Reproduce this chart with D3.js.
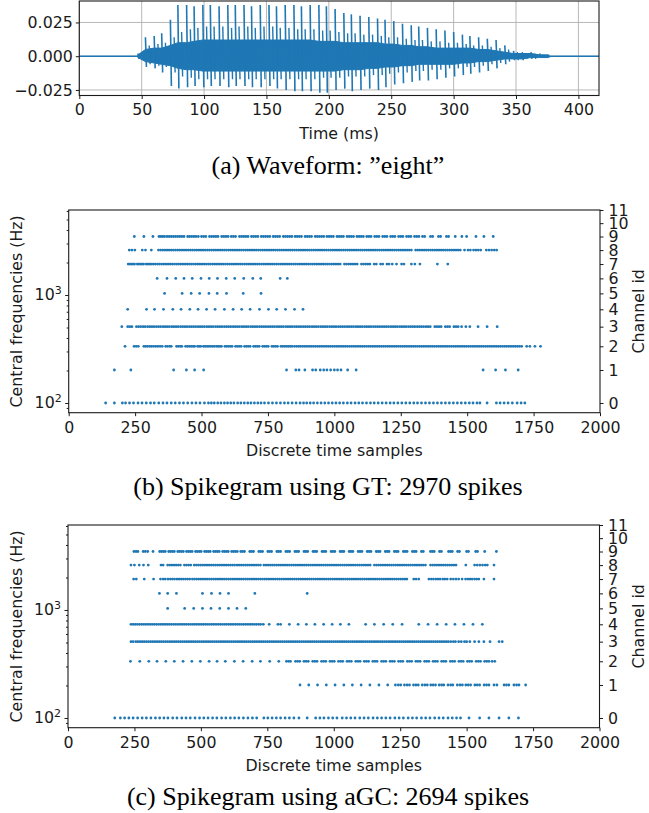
<!DOCTYPE html>
<html><head><meta charset="utf-8">
<script src="https://cdn.jsdelivr.net/npm/d3@7"></script>
<style>body{margin:0;background:#fff}svg{display:block}</style>
</head><body>
<script>
// ---------- Panel (a): waveform "eight" (values in units of 0.001) ----------
const waveXTicks = [0,50,100,150,200,250,300,350,400];
const waveYTicks = [-0.025,0,0.025];
const pulseT  = [47,53,60,66,73,79,86,92,99,105,112,119,125,132,138,145,152,158,165,172,178,185,192,198,205,212,218,225,232,239,245,252,259,266,272,279,286,293,300,307,313,320,327,334,341,348,355,362,369,376];
const pulseHi = [2,14,15,17,27,38,38,37,38,38,37,38,38,38,37,38,38,37,38,38,37,38,38,37,35,32,31,30,29,28,27,26,24,23,22,21,20,19,18,16,15,14,13,12,8,4,3,3,2,1];
const pulseLo = [-2,-8,-9,-12,-22,-24,-23,-22,-23,-22,-22,-23,-22,-22,-23,-23,-22,-24,-25,-26,-26,-26,-27,-27,-25,-24,-26,-25,-24,-25,-23,-21,-20,-19,-18,-18,-17,-16,-15,-14,-13,-12,-11,-9,-6,-3,-3,-2,-1,-1];
const secHi   = [0,8,9,10,14,18,20,21,22,22,22,21,22,22,21,22,22,21,21,20,20,20,19,19,18,17,17,16,16,15,14,14,13,12,12,11,11,10,10,9,8,8,7,6,5,3,2,2,1,1];
const secLo   = [0,-6,-7,-8,-12,-15,-16,-17,-17,-17,-17,-17,-17,-17,-17,-17,-17,-17,-17,-17,-17,-17,-16,-16,-16,-15,-15,-15,-14,-14,-13,-12,-12,-11,-11,-10,-10,-9,-9,-8,-8,-7,-6,-5,-4,-3,-2,-2,-1,-1];
const bodyHi  = [1,5,6,6,8,10,10,11,12,12,12,12,12,12,12,12,12,12,12,12,12,12,11,11,11,10,10,10,10,10,9,9,8,8,7,7,6,6,6,6,6,5,5,4,3,2,2,2,1,1];
const bodyLo  = [-1,-4,-5,-6,-7,-9,-10,-10,-11,-11,-11,-11,-11,-11,-11,-11,-11,-11,-11,-11,-11,-11,-11,-11,-11,-10,-10,-10,-9,-9,-8,-8,-7,-7,-6,-6,-6,-6,-6,-5,-5,-4,-4,-3,-2,-2,-2,-1,-1,-1];

// ---------- Spikegram axes ----------
const chanFreqs = [100,202,335,509,737,1035,1425,1935,2604,3480,4625,6124];
const chanIds = [0,1,2,3,4,5,6,7,8,9,10,11];
const sampleTicks = [0,250,500,750,1000,1250,1500,1750,2000];
const freqMajor = [100,1000];
const freqMinor = [90,200,300,400,500,600,700,800,900,2000,3000,4000,5000,6000];

// ---------- Panel (b): GT spikes (time sample per spike, per channel) ----------
const gt0 = [139,172,202,214,229,244,261,276,292,308,322,339,355,370,386,401,417,432,448,464,479,494,511,526,537,548,561,573,586,598,610,622,636,648,661,674,686,699,712,724,737,752,767,782,797,812,826,841,856,871,884,896,909,922,936,950,964,978,992,1006,1020,1034,1049,1063,1078,1092,1106,1121,1136,1150,1165,1180,1195,1210,1224,1239,1254,1269,1284,1299,1313,1328,1343,1358,1373,1388,1403,1418,1433,1448,1463,1478,1493,1508,1522,1537,1548,1575,1610,1624,1639,1654,1670,1688,1703,1717];
const gt1 = [172,234,395,443,474,508,820,855,867,889,918,930,947,960,972,986,1000,1012,1025,1050,1082,1560,1607,1644,1692];
const gt2 = [212,246,254,262,283,290,297,305,312,320,328,336,344,352,365,372,380,386,406,413,420,426,440,447,454,461,468,474,485,491,497,507,514,521,528,535,542,549,557,563,569,575,588,595,602,609,615,628,635,642,649,662,669,676,683,696,703,710,717,730,737,744,751,765,772,779,786,799,806,813,820,827,834,841,850,858,866,873,881,889,897,905,913,921,929,937,945,953,961,969,977,985,993,1001,1009,1017,1025,1033,1041,1049,1057,1065,1073,1081,1089,1097,1105,1113,1121,1129,1137,1145,1153,1161,1169,1177,1185,1193,1201,1209,1217,1225,1233,1241,1249,1257,1265,1273,1281,1289,1297,1305,1313,1321,1329,1337,1345,1353,1361,1369,1377,1385,1393,1401,1409,1417,1425,1433,1441,1449,1457,1465,1473,1481,1489,1497,1505,1513,1521,1529,1537,1545,1553,1561,1569,1577,1585,1593,1601,1609,1617,1625,1633,1641,1649,1657,1665,1673,1681,1689,1697,1705,1724,1736,1755,1776];
const gt3 = [200,222,230,238,255,263,271,280,288,297,305,313,321,330,338,346,355,363,371,379,388,396,404,412,421,429,437,445,454,462,470,478,487,495,503,511,520,528,536,544,553,561,569,577,586,594,602,610,619,627,635,643,652,660,668,676,685,693,701,709,718,726,734,742,751,759,767,775,784,792,800,808,817,825,833,841,850,858,866,874,883,891,899,907,916,924,932,940,949,957,965,973,982,990,998,1006,1015,1023,1031,1039,1048,1056,1064,1072,1081,1089,1097,1105,1114,1122,1130,1138,1147,1155,1163,1171,1180,1188,1196,1204,1213,1221,1229,1237,1246,1254,1262,1270,1279,1287,1295,1303,1312,1320,1328,1336,1345,1353,1361,1378,1386,1394,1402,1418,1426,1434,1450,1458,1466,1479,1495,1510,1541,1575,1613];
const gt4 = [222,293,323,357,392,423,456,487,519,551,586,619,651,683,718,752,783,816,850,882];
const gt5 = [361,427,461,493,528,559,594,657,724];
const gt6 = [333,370,403,434,465,498,529,560,593,625,659,693,723,796,823];
const gt7 = [224,230,236,242,248,258,264,270,276,282,292,298,304,310,318,326,334,342,350,358,366,374,382,390,398,406,414,422,430,438,446,454,462,470,478,486,494,502,510,518,526,534,542,550,558,566,574,582,590,598,606,614,622,630,638,646,654,662,670,678,686,694,702,710,718,726,734,742,750,758,766,774,782,790,798,806,814,822,830,838,846,854,862,870,878,886,894,902,910,918,926,934,942,950,958,966,974,982,990,998,1006,1014,1022,1038,1046,1054,1062,1070,1078,1086,1102,1110,1118,1126,1134,1150,1158,1174,1182,1198,1206,1218,1234,1253,1262,1290,1303,1322,1388,1427];
const gt8 = [228,238,249,277,289,311,338,346,354,362,370,378,386,394,402,410,418,426,434,442,450,458,466,474,482,490,498,506,514,522,530,538,546,554,562,570,578,586,594,602,610,618,626,634,642,650,658,666,674,682,690,698,706,714,722,730,738,746,754,762,770,778,786,794,802,810,818,826,834,842,850,858,866,874,882,890,898,906,914,922,930,938,946,954,962,970,978,986,994,1002,1010,1018,1026,1034,1042,1050,1058,1066,1074,1082,1090,1098,1106,1114,1122,1130,1138,1146,1154,1162,1170,1178,1186,1194,1202,1210,1218,1226,1234,1242,1250,1258,1266,1274,1282,1290,1306,1314,1322,1330,1338,1346,1354,1362,1370,1378,1386,1394,1402,1410,1418,1426,1434,1442,1450,1458,1466,1474,1490,1503,1512,1524,1533,1542,1551,1572,1582,1592,1602,1611];
const gt9 = [247,283,317,340,347,354,361,370,378,386,394,402,410,418,426,434,448,455,463,471,479,488,500,508,516,530,538,546,554,562,576,584,592,600,612,620,628,643,651,659,667,675,688,696,704,712,725,733,741,749,757,770,778,786,794,808,816,824,832,840,852,860,868,876,890,898,906,914,928,936,944,952,960,972,980,988,996,1010,1018,1026,1034,1048,1056,1064,1072,1085,1093,1101,1109,1122,1130,1138,1152,1160,1168,1182,1190,1198,1212,1220,1228,1242,1250,1258,1272,1280,1288,1302,1310,1318,1332,1340,1362,1370,1392,1400,1422,1430,1455,1480,1498,1533,1563,1598];

// ---------- Panel (c): aGC spikes ----------
const agc0 = [176,197,213,229,245,262,279,295,312,329,345,361,376,394,410,428,444,460,478,495,511,527,544,560,578,594,611,627,643,660,677,694,710,737,752,768,784,800,817,833,850,869,900,932,948,963,980,996,1012,1032,1048,1064,1080,1098,1114,1130,1148,1164,1180,1196,1212,1230,1246,1262,1280,1296,1312,1330,1346,1362,1380,1396,1412,1430,1446,1462,1477,1509,1549,1584,1622,1659,1695];
const agc1 = [873,906,939,972,1005,1038,1070,1103,1136,1170,1203,1232,1243,1252,1266,1276,1285,1300,1309,1318,1333,1343,1352,1365,1374,1383,1397,1406,1414,1430,1440,1448,1465,1475,1484,1497,1506,1515,1531,1540,1549,1566,1575,1584,1603,1614,1641,1650,1659,1678,1688,1697,1722];
const agc2 = [235,270,304,335,368,400,433,466,498,531,561,592,626,659,693,724,759,793,822,830,837,856,864,872,888,896,904,921,929,937,954,962,970,986,994,1002,1018,1026,1034,1050,1058,1066,1083,1091,1099,1115,1123,1131,1147,1155,1163,1180,1188,1196,1212,1220,1228,1244,1252,1260,1277,1285,1293,1309,1317,1325,1342,1350,1358,1374,1382,1390,1406,1414,1422,1439,1447,1455,1471,1479,1487,1503,1511,1519,1536,1544,1552,1568,1576,1584,1596,1606];
const agc3 = [237,245,255,263,271,279,287,295,303,311,319,327,335,343,351,359,367,375,383,391,399,407,415,423,431,439,447,455,463,471,479,487,495,503,511,519,527,535,543,551,559,567,575,583,591,599,607,615,623,631,639,647,655,663,671,679,687,695,703,711,719,727,735,743,751,759,767,775,783,791,799,807,815,823,831,839,847,855,863,871,879,887,895,903,911,919,927,935,943,951,959,967,975,983,991,999,1007,1015,1023,1031,1039,1047,1055,1063,1071,1079,1087,1095,1103,1111,1119,1127,1135,1143,1151,1159,1167,1175,1183,1191,1199,1207,1215,1223,1231,1239,1247,1255,1263,1271,1279,1287,1295,1303,1311,1319,1327,1335,1343,1351,1359,1367,1375,1383,1391,1399,1407,1415,1423,1431,1440,1450,1458,1470,1480,1492,1500,1512,1530,1546,1565,1588,1622,1634];
const agc4 = [237,245,253,261,269,277,285,293,301,309,317,325,333,341,349,357,365,373,381,389,397,405,413,421,429,437,445,453,461,469,477,485,493,501,509,517,525,533,541,549,557,565,573,581,589,597,605,613,621,629,637,645,653,661,669,677,685,693,701,709,717,725,735,757,790,800,833,866,897,929,962,994,1025,1057,1120,1153,1188,1222,1257,1320,1355,1389,1423,1456,1490,1524,1559];
const agc5 = [375,439,473,506,538,571,604,636,669];
const agc6 = [344,375,408,506,540,572,604,703,900];
const agc7 = [247,257,287,322,348,358,366,376,385,393,401,410,418,426,434,442,450,458,468,476,484,492,500,508,516,524,532,540,548,556,564,572,580,588,596,604,612,620,628,636,644,652,660,668,676,684,692,700,708,716,724,732,740,748,756,764,772,780,788,796,804,812,820,828,836,844,852,860,868,876,884,892,900,908,916,924,932,940,948,956,964,972,980,988,996,1004,1012,1020,1028,1036,1044,1052,1060,1068,1076,1084,1092,1100,1108,1116,1124,1132,1140,1148,1156,1164,1172,1180,1188,1196,1204,1212,1220,1228,1236,1244,1252,1260,1268,1275,1301,1310,1320,1358,1367,1375,1384,1392,1400,1410,1418,1427,1440,1450,1460,1470,1483,1496,1505,1513,1521,1530,1538,1546,1565,1603];
const agc8 = [237,250,268,284,302,350,358,375,383,391,399,407,415,423,438,446,454,462,475,483,491,499,507,515,523,531,539,547,555,563,571,579,587,595,603,611,619,627,636,644,652,660,668,676,684,692,700,708,716,724,737,745,753,761,769,777,785,793,801,809,817,825,833,841,849,857,865,873,881,889,897,905,913,921,929,937,945,953,961,969,977,985,993,1001,1009,1017,1025,1033,1041,1049,1057,1065,1073,1081,1089,1097,1105,1113,1121,1129,1137,1153,1161,1169,1177,1185,1193,1201,1209,1217,1225,1233,1241,1249,1257,1265,1273,1281,1289,1297,1305,1313,1321,1329,1337,1345,1364,1372,1380,1388,1396,1404,1412,1420,1428,1436,1444,1452,1460,1497,1530,1540,1550,1560,1570,1578,1603];
const agc9 = [248,256,263,283,291,300,320,345,352,359,366,379,386,393,400,413,420,427,434,446,453,460,467,480,487,494,501,514,521,528,535,548,555,562,569,582,589,596,603,616,623,630,637,650,657,664,684,691,698,718,725,732,752,759,766,786,793,800,820,827,834,854,861,868,888,895,902,922,929,936,956,963,970,990,997,1004,1024,1031,1038,1058,1065,1072,1092,1099,1106,1126,1133,1140,1160,1167,1174,1194,1201,1208,1228,1235,1242,1262,1269,1276,1296,1303,1310,1330,1337,1364,1371,1378,1398,1405,1432,1439,1446,1466,1473,1500,1507,1534,1541,1568,1612];

const gtRows  = [gt0,gt1,gt2,gt3,gt4,gt5,gt6,gt7,gt8,gt9];
const agcRows = [agc0,agc1,agc2,agc3,agc4,agc5,agc6,agc7,agc8,agc9];

// ---------- drawing ----------
const BLUE = '#1f77b4', INK = '#1a1a1a', GRID = '#b0b0b0';
const SANS = '"DejaVu Sans", sans-serif', SERIF = '"Liberation Serif", "Times New Roman", serif';
const FS = 15.8, CAP = 26;
const svg = d3.select('body').append('svg').attr('width',649).attr('height',813);

function styleAxis(g){
  g.select('.domain').remove();
  g.selectAll('.tick line').attr('stroke',INK).attr('stroke-width',1);
  g.selectAll('.tick text').attr('fill',INK).style('font-family',SANS).style('font-size',FS+'px');
}
const minus = v => (v<0?'\u2212':'') + Math.abs(v).toFixed(3);

// Panel (a)
{
  const x = d3.scaleLinear().domain([0,416.5]).range([79.3,599]);
  const y = d3.scaleLinear().domain([-0.0291,0.0409]).range([95.5,1]);
  const g = svg.append('g');
  g.selectAll('.gx').data(waveXTicks).join('line')
    .attr('x1',d=>x(d)).attr('x2',d=>x(d)).attr('y1',y.range()[1]).attr('y2',y.range()[0])
    .attr('stroke',GRID).attr('stroke-width',0.9);
  g.selectAll('.gy').data(waveYTicks).join('line')
    .attr('y1',d=>y(d)).attr('y2',d=>y(d)).attr('x1',x.range()[0]).attr('x2',x.range()[1])
    .attr('stroke',GRID).attr('stroke-width',0.9);
  g.append('path').datum([[0,0],[416.5,0]])
    .attr('d',d3.line().x(d=>x(d[0])).y(d=>y(d[1])))
    .attr('stroke',BLUE).attr('stroke-width',1.5).attr('fill','none');
  const idx = d3.range(pulseT.length);
  g.append('path').datum(idx)
    .attr('d',d3.area().x(i=>x(pulseT[i])).y0(i=>y(bodyLo[i]/1000)).y1(i=>y(bodyHi[i]/1000)))
    .attr('fill',BLUE).attr('stroke',BLUE).attr('stroke-width',1);
  g.selectAll('.sec').data(idx.slice(0,-1)).join('line')
    .attr('x1',i=>x(pulseT[i]+3)).attr('x2',i=>x(pulseT[i]+3.8))
    .attr('y1',i=>y(secHi[i]/1000)).attr('y2',i=>y(secLo[i]/1000))
    .attr('stroke',BLUE).attr('stroke-width',1.4);
  g.selectAll('.pulse').data(idx).join('line')
    .attr('x1',i=>x(pulseT[i])).attr('x2',i=>x(pulseT[i]+0.8))
    .attr('y1',i=>y(pulseHi[i]/1000)).attr('y2',i=>y(pulseLo[i]/1000))
    .attr('stroke',BLUE).attr('stroke-width',1.6);
  const ax = g.append('g').attr('transform',`translate(0,${y.range()[0]})`)
    .call(d3.axisBottom(x).tickValues(waveXTicks).tickFormat(d3.format('d')).tickSize(3.5).tickPadding(5).tickSizeOuter(0));
  styleAxis(ax);
  const ay = g.append('g').attr('transform',`translate(${x.range()[0]},0)`)
    .call(d3.axisLeft(y).tickValues(waveYTicks).tickFormat(minus).tickSize(3.5).tickPadding(3).tickSizeOuter(0));
  styleAxis(ay);
  g.append('rect').attr('x',x.range()[0]).attr('y',y.range()[1])
    .attr('width',x.range()[1]-x.range()[0]).attr('height',y.range()[0]-y.range()[1])
    .attr('fill','none').attr('stroke',INK).attr('stroke-width',1.1);
  g.append('text').attr('x',(x.range()[0]+x.range()[1])/2).attr('y',139)
    .attr('text-anchor','middle').style('font-family',SANS).style('font-size',FS+'px').attr('fill',INK)
    .text('Time (ms)');
  svg.append('text').attr('x',328).attr('y',174).attr('text-anchor','middle')
    .style('font-family',SERIF).style('font-size',CAP+'px').attr('fill','#000')
    .text('(a) Waveform: \u201Deight\u201D');
}

function spikegram(top, bottom, left, right, rows, caption, capY){
  const x = d3.scaleLinear().domain([0,2000]).range([left,right]);
  const y = d3.scaleLog().domain([81.3,6124]).range([bottom,top]);
  const g = svg.append('g');
  rows.forEach((arr,ch)=>{
    g.append('g').selectAll('circle').data(arr).join('circle')
      .attr('cx',d=>x(d)).attr('cy',y(chanFreqs[ch])).attr('r',1.4).attr('fill',BLUE);
  });
  const ax = g.append('g').attr('transform',`translate(0,${bottom})`)
    .call(d3.axisBottom(x).tickValues(sampleTicks).tickFormat(d3.format('d')).tickSize(3.5).tickPadding(6).tickSizeOuter(0));
  styleAxis(ax);
  const ayMin = g.append('g').attr('transform',`translate(${left},0)`)
    .call(d3.axisLeft(y).tickValues(freqMinor).tickFormat('').tickSize(2).tickSizeOuter(0));
  styleAxis(ayMin);
  const ayMaj = g.append('g').attr('transform',`translate(${left},0)`)
    .call(d3.axisLeft(y).tickValues(freqMajor).tickFormat('').tickSize(3.5).tickSizeOuter(0));
  styleAxis(ayMaj);
  freqMajor.forEach(f=>{
    const t = g.append('text').attr('x',left-7).attr('y',y(f)+5.5).attr('text-anchor','end')
      .style('font-family',SANS).style('font-size',FS+'px').attr('fill',INK);
    t.append('tspan').text('10');
    t.append('tspan').attr('dy',-6).style('font-size','11px').text(String(Math.round(Math.log10(f))));
  });
  const ayR = g.append('g').attr('transform',`translate(${right},0)`)
    .call(d3.axisRight(y).tickValues(chanFreqs).tickFormat((d,i)=>chanIds[i]).tickSize(3.5).tickPadding(5).tickSizeOuter(0));
  styleAxis(ayR);
  g.append('rect').attr('x',left).attr('y',top).attr('width',right-left).attr('height',bottom-top)
    .attr('fill','none').attr('stroke',INK).attr('stroke-width',1.1);
  const mid = (top+bottom)/2;
  g.append('text').attr('transform',`translate(16,${mid}) rotate(-90)`).attr('text-anchor','middle')
    .attr('dominant-baseline','central').style('font-family',SANS).style('font-size',FS+'px').attr('fill',INK)
    .text('Central frequencies (Hz)');
  g.append('text').attr('transform',`translate(638.5,${mid}) rotate(-90)`).attr('text-anchor','middle')
    .attr('dominant-baseline','central').style('font-family',SANS).style('font-size',FS+'px').attr('fill',INK)
    .text('Channel id');
  g.append('text').attr('x',(left+right)/2).attr('y',bottom+43).attr('text-anchor','middle')
    .style('font-family',SANS).style('font-size',FS+'px').attr('fill',INK).text('Discrete time samples');
  svg.append('text').attr('x',328).attr('y',capY).attr('text-anchor','middle')
    .style('font-family',SERIF).style('font-size',CAP+'px').attr('fill','#000').text(caption);
}
spikegram(210, 412.7, 68.7, 600, gtRows, '(b) Spikegram using GT: 2970 spikes', 495);
spikegram(525, 727.7, 68, 599.5, agcRows, '(c) Spikegram using aGC: 2694 spikes', 805);
</script>
</body></html>
